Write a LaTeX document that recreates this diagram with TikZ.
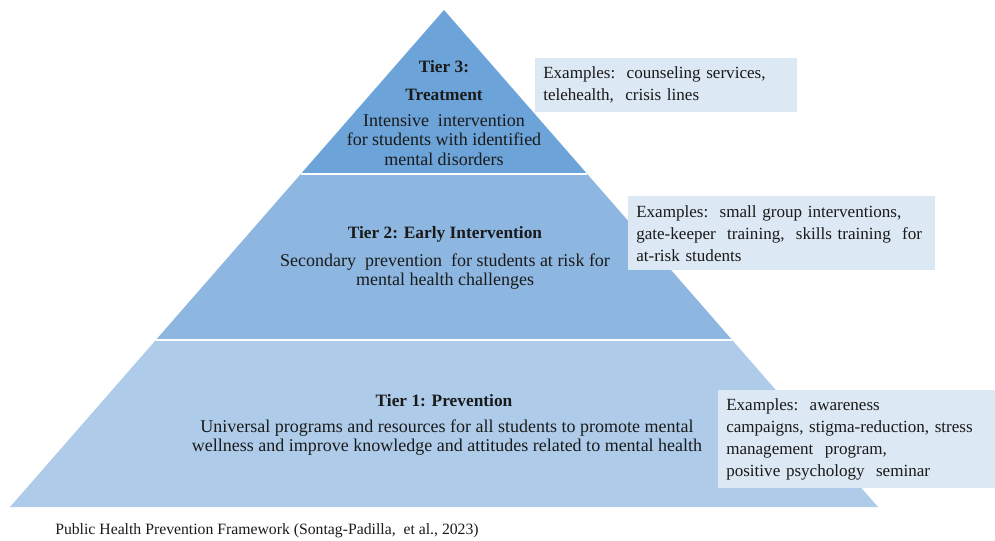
\documentclass[tikz,border=0pt]{standalone}
\usepackage{fontspec}
\setmainfont{Liberation Serif}
\usetikzlibrary{positioning,calc}
\definecolor{ink}      {HTML}{1A1A1A}
\definecolor{tierthree}{HTML}{6CA3D8}
\definecolor{tiertwo}  {HTML}{8DB7E1}
\definecolor{tierone}  {HTML}{AECCE9}
\definecolor{boxfill}  {HTML}{DCE8F4}
\tikzset{
  % --- text
  tier/.style  = {font=\fontsize{13}{21}\selectfont\bfseries, text=ink, align=center, inner sep=0pt},
  desc/.style  = {font=\fontsize{13.5}{14.5}\selectfont, text=ink, align=center, inner sep=0pt},
  source/.style= {font=\fontsize{11.8}{13}\selectfont, text=ink, anchor=west, inner sep=0pt},
  % --- example boxes
  ex/.style    = {fill=boxfill, font=\fontsize{12.8}{16.5}\selectfont, text=ink, align=left,
                  anchor=north west, inner xsep=6pt, inner ysep=0pt},
  % --- tier borders
  cut/.style   = {white, line width=1.4pt},
}

\begin{document}
\begin{tikzpicture}[x=0.75pt,y=-0.75pt]
  \useasboundingbox (0,0) rectangle (995,540);
  \coordinate (apex) at (444,10);
  \coordinate (bl) at (10,507);
  \coordinate (br) at (878,507);
  \coordinate (l1) at ($(apex)!0.33!(bl)$);
  \coordinate (r1) at ($(apex)!0.33!(br)$);
  \coordinate (l2) at ($(apex)!0.664!(bl)$);
  \coordinate (r2) at ($(apex)!0.664!(br)$);

  % pyramid, top to bottom
  \fill[tierthree] (apex) -- (r1) -- (l1) -- cycle;
  \fill[tiertwo] (l1) -- (r1) -- (r2) -- (l2) -- cycle;
  \fill[tierone] (l2) -- (r2) -- (br) -- (bl) -- cycle;
  \draw[cut] (l1) -- (r1);
  \draw[cut] (l2) -- (r2);

  \node[tier] (t3) at (444,81) {Tier 3:\\Treatment};
  \node[desc] (d3) at (444,140) {Intensive\ \ intervention\\for students with identified\\mental disorders};
  \node[tier] (t2) at (445,234) {Tier 2: Early Intervention};
  \node[desc] (d2) at (445,271.5) {Secondary\ \ prevention\ \ for students at risk for\\mental health challenges};
  \node[tier] (t1) at (444,401) {Tier 1: Prevention};
  \node[desc] (d1) at (447,437.5) {Universal programs and resources for all students to promote mental\\wellness and improve knowledge and attitudes related to mental health};

  % examples beside each tier
  \node[ex, text width=184pt, minimum height=40.5pt] (e3) at (535,58)
    {Examples:\ \ counseling services,\\telehealth,\ \ crisis lines};
  \node[ex, text width=218pt, minimum height=55.5pt] (e2) at (628,196)
    {Examples:\ \ small group interventions,\\gate-keeper\ \ training,\ \ skills training\ \ for\\at-risk students};
  \node[ex, text width=197pt, minimum height=73pt] (e1) at (718,390)
    {Examples:\ \ awareness\\campaigns, stigma-reduction, stress\\management\ \ program,\\positive psychology\ \ seminar};

  \node[source] (src) at (55,531) {Public Health Prevention Framework (Sontag-Padilla,\ \ et al., 2023)};
\end{tikzpicture}
\end{document}
